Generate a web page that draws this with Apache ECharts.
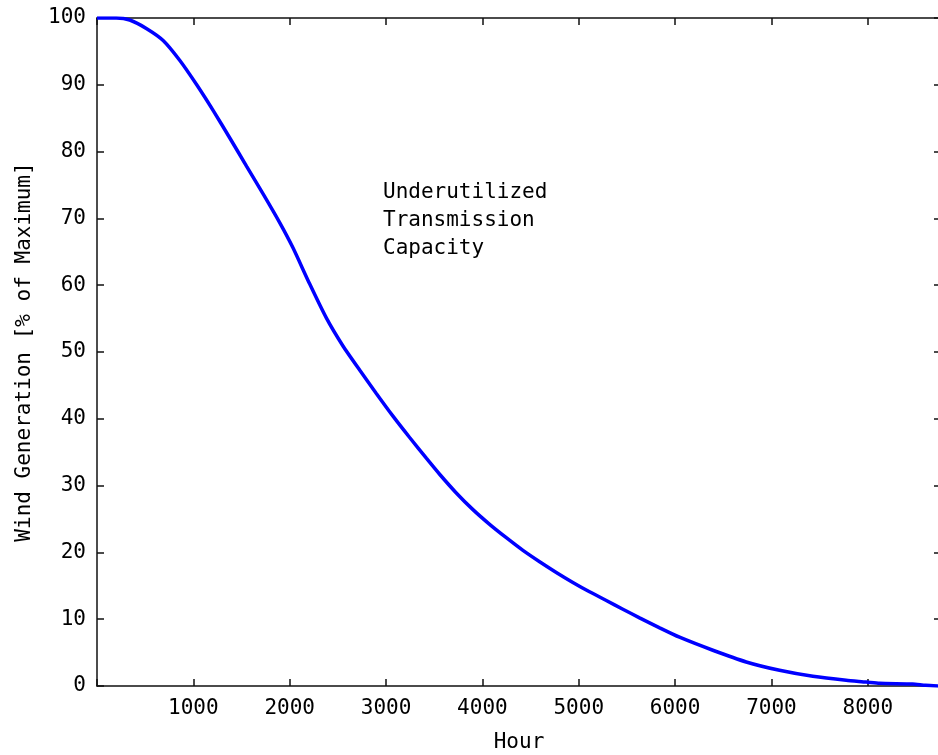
<!DOCTYPE html>
<html>
<head>
<meta charset="utf-8">
<script src="https://cdn.jsdelivr.net/npm/echarts@6/dist/echarts.min.js"></script>
<style>
  html, body { margin: 0; padding: 0; background: #fff; }
  #chart { width: 938px; height: 755px; }
</style>
</head>
<body>
<div id="chart"></div>
<script>
// Annual wind generation duration curve (hours sorted by output).
const hours = [0, 200, 340, 516, 689, 862, 1035, 1208, 1380, 1553, 1727, 1899,
  2034, 2207, 2380, 2553, 2726, 2899, 3072, 3245, 3418, 3556, 3729, 3902,
  4075, 4248, 4421, 4594, 4767, 4939, 5112, 5286, 5458, 5631, 5840, 6046,
  6392, 6738, 7084, 7430, 7776, 7984, 8122, 8465, 8600, 8760];
const generation = [100, 100, 99.7, 98.4, 96.6, 93.6, 90.0, 86.1, 82.0, 77.8, 73.6, 69.3,
  65.6, 60.2, 55.1, 50.9, 47.3, 43.8, 40.4, 37.2, 34.1, 31.7, 28.9, 26.4,
  24.2, 22.2, 20.3, 18.6, 17.0, 15.5, 14.1, 12.8, 11.5, 10.2, 8.7, 7.3,
  5.35, 3.6, 2.35, 1.45, 0.85, 0.6, 0.4, 0.3, 0.1, 0];
const hourTicks = [1000, 2000, 3000, 4000, 5000, 6000, 7000, 8000];
const noteLines = ['Underutilized', 'Transmission', 'Capacity'];

const FONT = '"DejaVu Sans Mono", "Liberation Mono", monospace';
const FS = 21;
const axisLine = { show: true, onZero: false, lineStyle: { color: '#111', width: 1.5 } };
const tickIn = { show: true, inside: true, length: 7, lineStyle: { color: '#111', width: 1.5 } };

const chart = echarts.init(document.getElementById('chart'), null, { renderer: 'canvas' });
chart.setOption({
  animation: false,
  backgroundColor: '#fff',
  // the plot frame runs slightly past the right edge of the canvas
  grid: { left: 97, top: 18, width: 844, height: 668, containLabel: false, outerBoundsMode: 'none' },
  xAxis: [
    {
      type: 'value', min: 0, max: 8760, interval: 1000, position: 'bottom',
      name: 'Hour', nameLocation: 'middle', nameGap: 46,
      nameTextStyle: { color: '#000', fontFamily: FONT, fontSize: FS },
      axisLine, axisTick: tickIn, splitLine: { show: false },
      axisLabel: {
        color: '#000', fontFamily: FONT, fontSize: FS, margin: 12,
        formatter: v => hourTicks.includes(v) ? String(v) : ''
      }
    },
    {
      type: 'value', min: 0, max: 8760, interval: 1000, position: 'top',
      axisLine, axisTick: tickIn, splitLine: { show: false }, axisLabel: { show: false }
    }
  ],
  yAxis: [
    {
      type: 'value', min: 0, max: 100, interval: 10, position: 'left',
      name: 'Wind Generation [% of Maximum]', nameLocation: 'middle', nameGap: 62,
      nameTextStyle: { color: '#000', fontFamily: FONT, fontSize: FS },
      axisLine, axisTick: tickIn, splitLine: { show: false },
      axisLabel: { color: '#000', fontFamily: FONT, fontSize: FS, margin: 11 }
    },
    {
      type: 'value', min: 0, max: 100, interval: 10, position: 'right',
      axisLine, axisTick: tickIn, splitLine: { show: false }, axisLabel: { show: false }
    }
  ],
  graphic: [{
    type: 'text', left: 383, top: 179,
    style: {
      text: noteLines.join('\n'), fill: '#000',
      font: FS + 'px ' + FONT, lineHeight: 28
    }
  }],
  series: [{
    type: 'line',
    data: hours.map((h, i) => [h, generation[i]]),
    showSymbol: false,
    smooth: 0.2,
    lineStyle: { color: '#0000ff', width: 3.5 },
    z: 1
  }]
});
</script>
</body>
</html>
